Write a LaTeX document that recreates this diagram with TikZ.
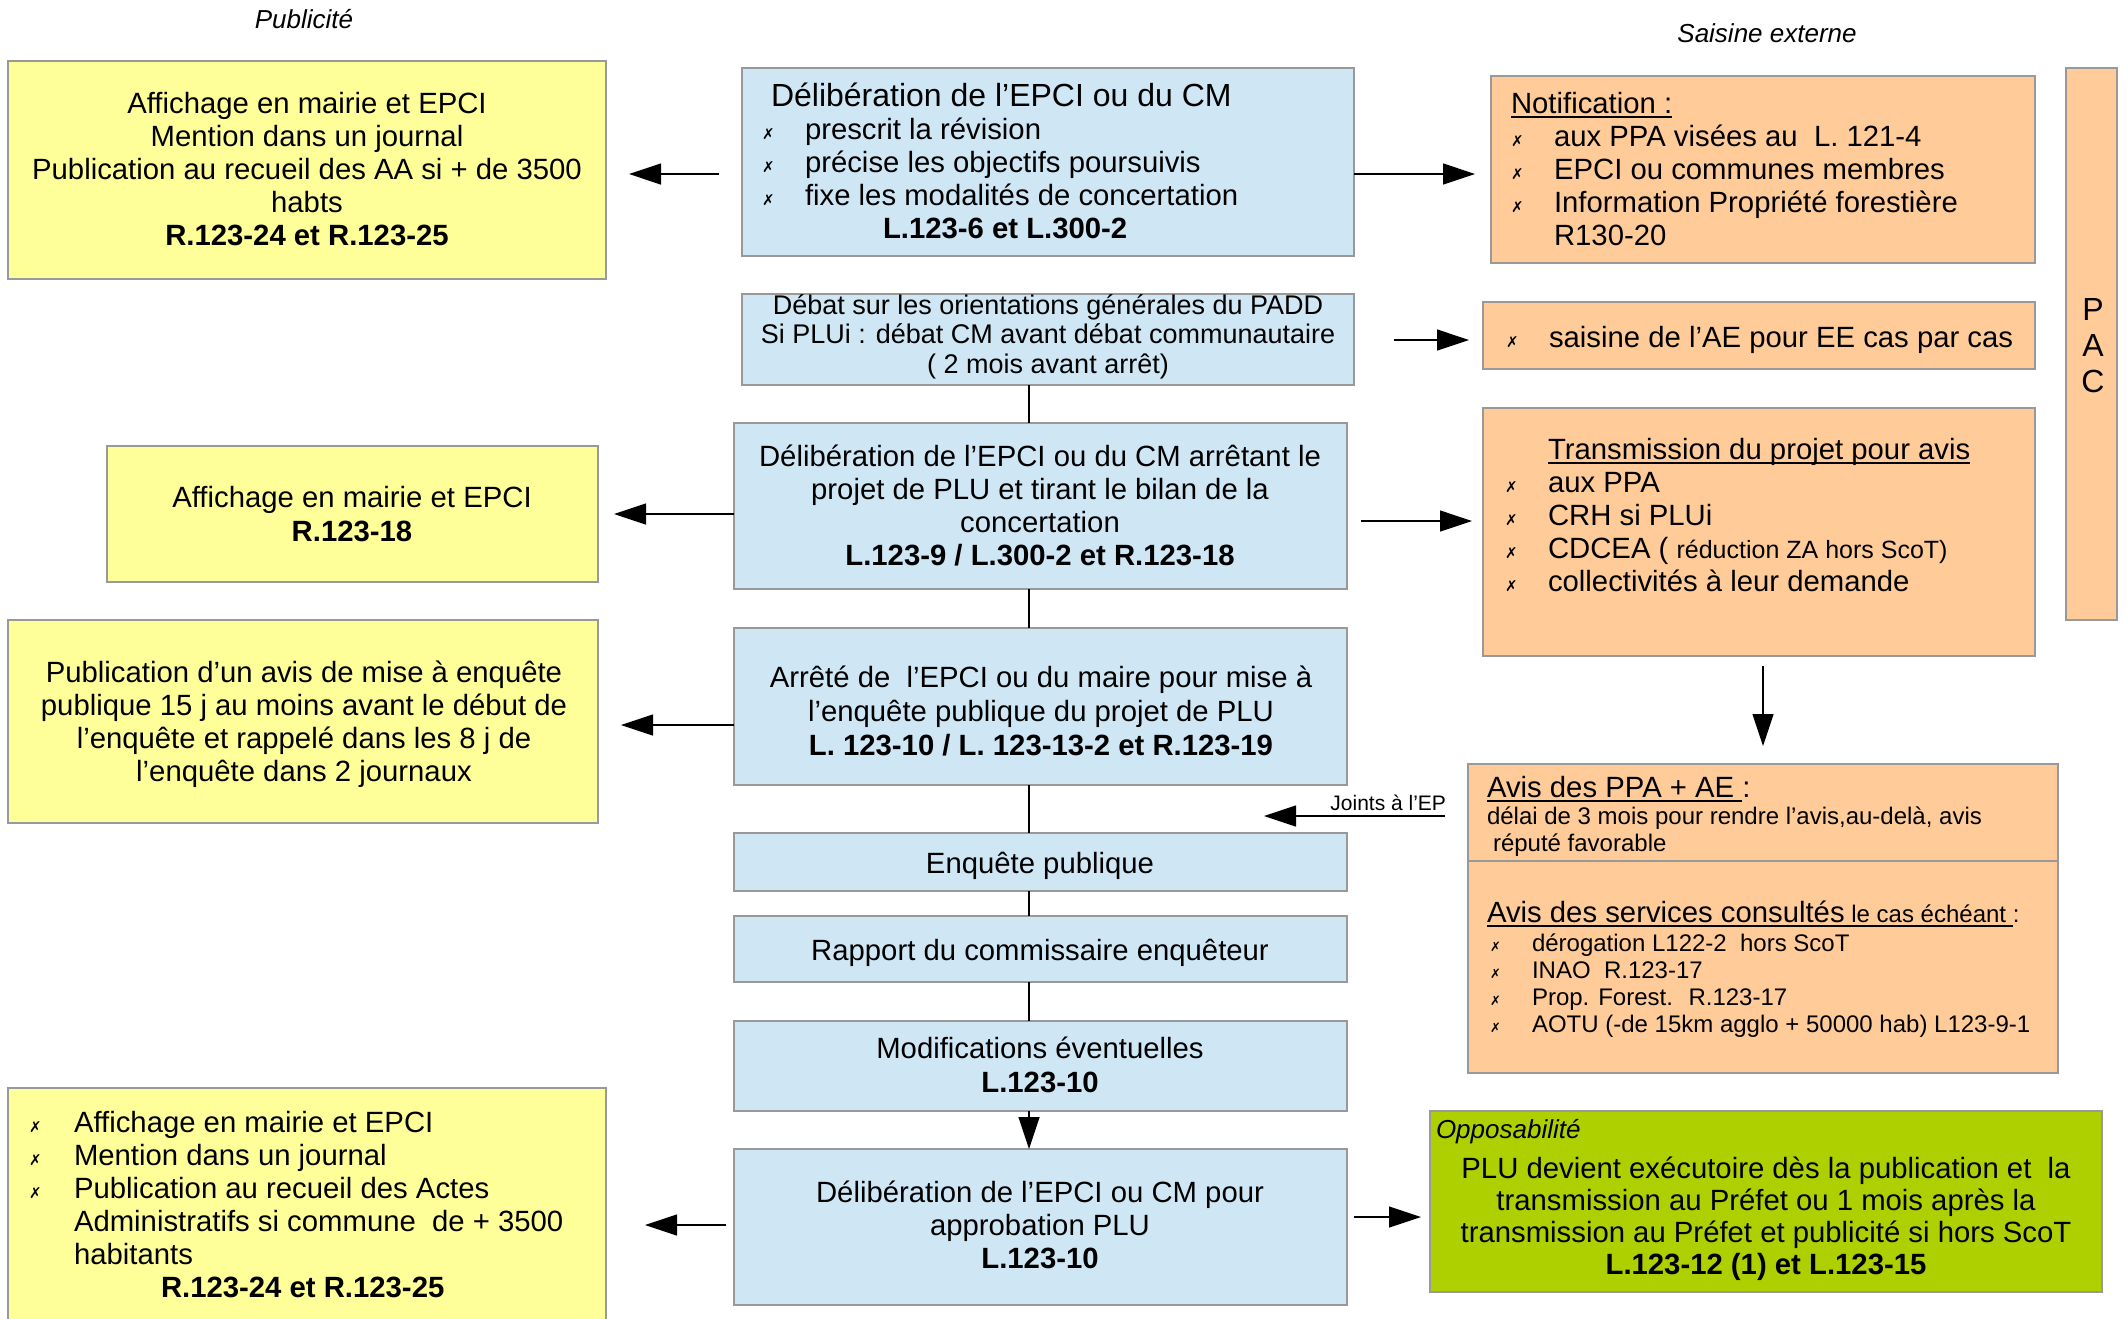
\documentclass[tikz,border=0pt]{standalone}
\usepackage{fontspec}
\setmainfont{Liberation Sans}
\newfontfamily\dvs{DejaVu Sans}
\usetikzlibrary{arrows.meta}
\definecolor{cyel}{HTML}{FFFF99}
\definecolor{cblu}{HTML}{CFE7F5}
\definecolor{corg}{HTML}{FFCC99}
\definecolor{cgrn}{HTML}{AECF00}
\definecolor{cbrd}{HTML}{999999}
\newsavebox\ulbox
\newcommand\ulx[1]{\sbox\ulbox{#1}\rlap{\rule[-4.5pt]{\wd\ulbox}{1.5pt}}\usebox\ulbox}
\newcommand\xb{\makebox[43pt][l]{\dvs\fontsize{15}{15}\selectfont ✗}}
\newcommand\xbw{\makebox[45pt][l]{\dvs\fontsize{15}{15}\selectfont ✗}}
\newcommand\xbs{\makebox[42pt][l]{\dvs\fontsize{13}{13}\selectfont ✗}}
\newcommand\fsn{\fontsize{29.3}{33}\selectfont}
\newcommand\fss{\fontsize{24}{27}\selectfont}
\begin{document}
\begin{tikzpicture}[x=1pt,y=-1pt,
  box/.style={draw=cbrd, line width=1.3pt, inner sep=0pt, outer sep=0pt, anchor=north west},
  tx/.style={inner sep=0pt, outer sep=0pt, font=\fsn},
  lnk/.style={draw=black, line width=1.3pt},
  arr/.style={lnk, -{Triangle[length=32pt,width=21pt]}}]
\fill[white] (0,0) rectangle (2127,1318);
\path[use as bounding box] (0,0) rectangle (2127,1318);

% boxes
\node[box, fill=cyel, minimum width=598pt, minimum height=218pt] (Y1) at (8,61) {};
\node[box, fill=cblu, minimum width=612pt, minimum height=188pt] (B1) at (742,68) {};
\node[box, fill=corg, minimum width=544pt, minimum height=187pt] (N) at (1491,76) {};
\node[box, fill=corg, minimum width=51pt, minimum height=552pt] (PAC) at (2066,68) {};
\node[box, fill=cblu, minimum width=612pt, minimum height=91pt] (B2) at (742,294) {};
\node[box, fill=corg, minimum width=552pt, minimum height=67pt] (S) at (1483,302) {};
\node[box, fill=cyel, minimum width=491pt, minimum height=136pt] (Y2) at (107,446) {};
\node[box, fill=cblu, minimum width=613pt, minimum height=166pt] (B3) at (734,423) {};
\node[box, fill=corg, minimum width=552pt, minimum height=248pt] (T) at (1483,408) {};
\node[box, fill=cyel, minimum width=590pt, minimum height=203pt] (Y3) at (8,620) {};
\node[box, fill=cblu, minimum width=613pt, minimum height=157pt] (B4) at (734,628) {};
\node[box, fill=corg, minimum width=590pt, minimum height=309pt] (A) at (1468,764) {};
\node[box, fill=cblu, minimum width=613pt, minimum height=58pt] (B5) at (734,833) {};
\node[box, fill=cblu, minimum width=613pt, minimum height=66pt] (B6) at (734,916) {};
\node[box, fill=cblu, minimum width=613pt, minimum height=90pt] (B7) at (734,1021) {};
\node[box, fill=cblu, minimum width=613pt, minimum height=156pt] (B8) at (734,1149) {};
\node[box, fill=cyel, minimum width=598pt, minimum height=260pt] (Y4) at (8,1088) {};
\node[box, fill=cgrn, minimum width=672pt, minimum height=181pt] (G) at (1430,1111) {};
\draw[draw=cbrd, line width=1.3pt] (A.west |- 0,861) -- (A.east |- 0,861);

% headings
\node[tx, font=\itshape\fontsize{26}{26}\selectfont, anchor=base] (pub) at (304,28) {Publicité};
\node[tx, font=\itshape\fontsize{26}{26}\selectfont, anchor=base] (sai) at (1767,42) {Saisine externe};

% texts (anchor=base is the last line's baseline)
\node[tx, align=center, anchor=base] (y1t) at (307,245) {Affichage en mairie et EPCI\\Mention dans un journal\\Publication au recueil des AA si + de 3500\\habts\\\textbf{R.123-24 et R.123-25}};
\node[tx, align=left, anchor=base west] (b1t) at (762,238) {\hspace*{9pt}{\fontsize{32}{33}\selectfont Délibération de l’EPCI ou du CM}\\ \xb prescrit la révision\\ \xb précise les objectifs poursuivis\\ \xb fixe les modalités de concertation\\ \hspace*{121pt}\textbf{L.123-6 et L.300-2}};
\node[tx, align=left, anchor=base west] (nt) at (1511,245) {\ulx{Notification :}\\ \xb aux PPA visées au~ L. 121-4\\ \xb EPCI ou communes membres\\ \xb Information Propriété forestière\\ \hspace*{43pt}R130-20};
\node[tx, align=left, anchor=base west] (st) at (1506,347) {\xb saisine de l’AE pour EE cas par cas};
\node[tx, font=\fontsize{32}{36}\selectfont, align=center, anchor=base] (pact) at (2093,392) {P\\A\\C};
\node[tx, font=\fontsize{27}{29.5}\selectfont, align=center, anchor=base] (b2t) at (1048,373) {Débat sur les orientations générales du PADD\\Si PLUi : débat CM avant débat communautaire\\( 2 mois avant arrêt)};
\node[tx, font=\fontsize{29.3}{34}\selectfont, align=center, anchor=base] (y2t) at (352,541) {Affichage en mairie et EPCI\\\textbf{R.123-18}};
\node[tx, align=center, anchor=base] (b3t) at (1040,565) {Délibération de l’EPCI ou du CM arrêtant le\\projet de PLU et tirant le bilan de la\\concertation\\\textbf{L.123-9 / L.300-2 et R.123-18}};
\node[tx, align=left, anchor=base west] (tt) at (1505,591) {\hspace*{43pt}\ulx{Transmission du projet pour avis}\\ \xb aux PPA\\ \xb CRH si PLUi\\ \xb CDCEA ( {\fontsize{25}{25}\selectfont réduction ZA hors ScoT)}\\ \xb collectivités à leur demande};
\node[tx, align=center, anchor=base] (y3t) at (304,781) {Publication d’un avis de mise à enquête\\publique 15 j au moins avant le début de\\l’enquête et rappelé dans les 8 j de\\l’enquête dans 2 journaux};
\node[tx, font=\fontsize{29.3}{34}\selectfont, align=center, anchor=base] (b4t) at (1041,755) {Arrêté de~ l’EPCI ou du maire pour mise à\\l’enquête publique du projet de PLU\\\textbf{L. 123-10 / L. 123-13-2 et R.123-19}};
\node[tx, font=\fontsize{21}{21}\selectfont, anchor=base east] (jl) at (1446,810) {Joints à l’EP};
\node[tx, anchor=base west] (a1) at (1487,797) {\ulx{Avis des PPA + AE }:};
\node[tx, font=\fss, align=left, anchor=base west] (a2) at (1487,851) {délai de 3 mois pour rendre l’avis,au-delà, avis\\\hspace*{6pt}réputé favorable};
\node[tx, anchor=base west] (a3) at (1487,922) {\ulx{Avis des services consultés}{\fss\ulx{ le cas échéant }:}};
\node[tx, font=\fss, align=left, anchor=base west] (a4) at (1490,1032) {\xbs dérogation L122-2~ hors ScoT\\ \xbs INAO~ R.123-17\\ \xbs Prop. Forest.~ R.123-17\\ \xbs AOTU (-de 15km agglo + 50000 hab) L123-9-1};
\node[tx, anchor=base] (b5t) at (1040,873) {Enquête publique};
\node[tx, anchor=base] (b6t) at (1040,960) {Rapport du commissaire enquêteur};
\node[tx, font=\fontsize{29.3}{34}\selectfont, align=center, anchor=base] (b7t) at (1040,1092) {Modifications éventuelles\\\textbf{L.123-10}};
\node[tx, align=center, anchor=base] (b8t) at (1040,1268) {Délibération de l’EPCI ou CM pour\\approbation PLU\\\textbf{L.123-10}};
\node[tx, align=left, anchor=base west] (y4t) at (29,1297) {\xbw Affichage en mairie et EPCI\\ \xbw Mention dans un journal\\ \xbw Publication au recueil des Actes\\ \hspace*{45pt}Administratifs si commune~ de + 3500\\ \hspace*{45pt}habitants\\ \hspace*{132pt}\textbf{R.123-24 et R.123-25}};
\node[tx, font=\itshape\fontsize{26}{26}\selectfont, anchor=base west] (gl) at (1436,1138) {Opposabilité};
\node[tx, font=\fontsize{29.3}{32}\selectfont, align=center, anchor=base] (gt) at (1766,1274) {PLU devient exécutoire dès la publication et~ la\\transmission au Préfet ou 1 mois après la\\transmission au Préfet et publicité si hors ScoT\\\textbf{L.123-12 (1) et L.123-15}};

% connectors
\coordinate (jt) at (1264,816);
\draw[arr, shorten <=23pt, shorten >=23pt] (B1.west |- 0,174) -- (Y1.east |- 0,174);
\draw[arr, shorten >=16pt] (B1.east |- 0,174) -- (N.west |- 0,174);
\draw[arr, shorten <=40pt, shorten >=14pt] (B2.east |- 0,340) -- (S.west |- 0,340);
\draw[arr, shorten >=16pt] (B3.west |- 0,514) -- (Y2.east |- 0,514);
\draw[arr, shorten <=14pt, shorten >=11pt] (B3.east |- 0,521) -- (T.west |- 0,521);
\draw[arr, shorten >=23pt] (B4.west |- 0,725) -- (Y3.east |- 0,725);
\draw[arr, shorten <=10pt, shorten >=18pt] (T.south -| 1763,0) -- (A.north -| 1763,0);
\draw[arr, shorten <=23pt] (A.west |- 0,816) -- (jt);
\draw[lnk] (B2.south -| 1029,0) -- (B3.north -| 1029,0);
\draw[lnk] (B3.south -| 1029,0) -- (B4.north -| 1029,0);
\draw[lnk] (B4.south -| 1029,0) -- (B5.north -| 1029,0);
\draw[lnk] (B5.south -| 1029,0) -- (B6.north -| 1029,0);
\draw[lnk] (B6.south -| 1029,0) -- (B7.north -| 1029,0);
\draw[arr] (B7.south -| 1029,0) -- (B8.north -| 1029,0);
\draw[arr, shorten <=7pt, shorten >=9pt] (B8.east |- 0,1217) -- (G.west |- 0,1217);
\draw[arr, shorten <=8pt, shorten >=39pt] (B8.west |- 0,1225) -- (Y4.east |- 0,1225);
\end{tikzpicture}
\end{document}
